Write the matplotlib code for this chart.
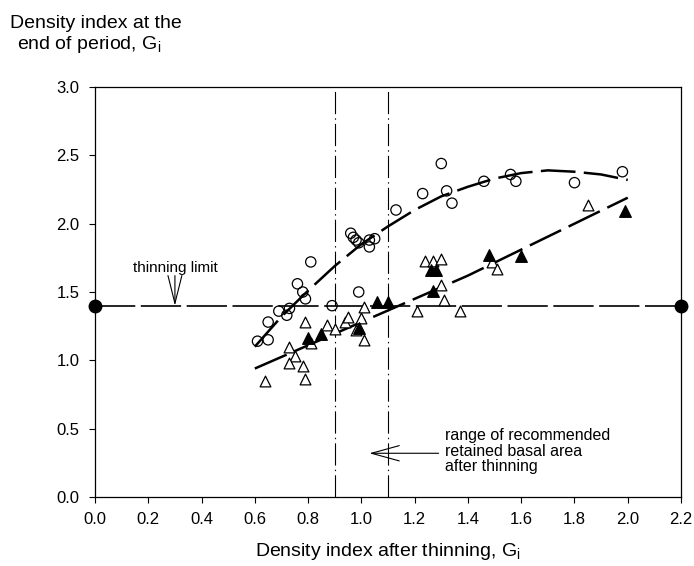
import matplotlib
matplotlib.use("Agg")
import matplotlib.pyplot as plt

plt.rcParams["font.family"] = ["Liberation Sans", "DejaVu Sans"]
plt.rcParams["mathtext.fontset"] = "custom"
plt.rcParams["mathtext.rm"] = "Liberation Sans"
plt.rcParams["mathtext.it"] = "Liberation Sans"
plt.rcParams["lines.scale_dashes"] = False

# open circles
circle_x = [0.61, 0.65, 0.65, 0.69, 0.72, 0.73, 0.76, 0.78, 0.79, 0.81, 0.89,
            0.96, 0.97, 0.98, 0.99, 0.99, 1.03, 1.05, 1.03, 1.13, 1.23, 1.30,
            1.32, 1.34, 1.46, 1.56, 1.58, 1.80, 1.98]
circle_y = [1.14, 1.15, 1.28, 1.36, 1.33, 1.38, 1.56, 1.50, 1.45, 1.72, 1.40,
            1.93, 1.90, 1.88, 1.86, 1.50, 1.88, 1.89, 1.83, 2.10, 2.22, 2.44,
            2.24, 2.15, 2.31, 2.36, 2.31, 2.30, 2.38]

# open triangles
tri_x = [0.64, 0.73, 0.75, 0.73, 0.78, 0.79, 0.79, 0.81, 0.87, 0.90, 0.94,
         0.95, 0.98, 1.00, 1.01, 1.01, 1.21, 1.24, 1.27, 1.30, 1.30, 1.31,
         1.37, 1.49, 1.51, 1.85]
tri_y = [0.85, 1.10, 1.03, 0.98, 0.96, 0.86, 1.28, 1.13, 1.26, 1.23, 1.28,
         1.32, 1.22, 1.31, 1.15, 1.39, 1.36, 1.73, 1.73, 1.74, 1.55, 1.44,
         1.36, 1.72, 1.67, 2.14]

# filled triangles
ftri_x = [0.80, 0.85, 0.99, 1.06, 1.10, 1.26, 1.28, 1.27, 1.48, 1.60, 1.99]
ftri_y = [1.16, 1.19, 1.24, 1.43, 1.43, 1.66, 1.66, 1.51, 1.77, 1.76, 2.09]

# fitted curves
fit_c_x = [0.6, 0.7, 0.8, 0.9, 1.0, 1.1, 1.2, 1.3, 1.4, 1.5, 1.6, 1.7, 1.8, 1.9, 2.0]
fit_c_y = [1.10, 1.32, 1.51, 1.69, 1.85, 1.98, 2.10, 2.20, 2.27, 2.33, 2.37,
           2.39, 2.38, 2.36, 2.32]
fit_t_x = [0.6, 0.8, 1.0, 1.2, 1.4, 1.6, 1.8, 2.0]
fit_t_y = [0.94, 1.11, 1.28, 1.45, 1.62, 1.81, 2.00, 2.19]

thinning_limit = 1.4
range_low, range_high = 0.9, 1.1

xticks = [0.0, 0.2, 0.4, 0.6, 0.8, 1.0, 1.2, 1.4, 1.6, 1.8, 2.0, 2.2]
yticks = [0.0, 0.5, 1.0, 1.5, 2.0, 2.5, 3.0]

fig = plt.figure(figsize=(6.94, 5.66), dpi=100)
ax = fig.add_axes([0.1369, 0.1219, 0.8444, 0.7244])

# recommended range
for xv in (range_low, range_high):
    ax.axvline(xv, color="black", lw=0.8, linestyle=(0, (16, 3, 1, 3)))

# thinning limit line with end dots
ax.plot([0.0, 2.2], [thinning_limit, thinning_limit], color="black", lw=1.2,
        linestyle=(0, (29, 4)), clip_on=False)
ax.plot([0.0, 2.2], [thinning_limit, thinning_limit], "o", color="black",
        markersize=9, linestyle="none", clip_on=False, zorder=5)

# fitted lines
ax.plot(fit_c_x, fit_c_y, color="black", lw=1.8, linestyle=(0, (25, 6)))
ax.plot(fit_t_x, fit_t_y, color="black", lw=1.8, linestyle=(0, (25, 6)))

# points
ax.scatter(circle_x, circle_y, s=55, facecolors="none", edgecolors="black",
           linewidths=0.9, zorder=4)
ax.scatter(tri_x, tri_y, s=60, marker="^", facecolors="white",
           edgecolors="black", linewidths=0.9, zorder=4)
ax.scatter(ftri_x, ftri_y, s=70, marker="^", facecolors="black",
           edgecolors="black", linewidths=0.9, zorder=4)

# annotations
ax.annotate("", xy=(0.3, thinning_limit), xytext=(0.3, 1.62),
            arrowprops=dict(arrowstyle="->,head_length=2.0,head_width=0.5",
                            lw=0.8, color="black", shrinkA=0, shrinkB=0))
ax.text(0.3, 1.675, "thinning limit", ha="center", va="center", fontsize=11)

ax.annotate("", xy=(1.03, 0.32), xytext=(1.29, 0.32),
            arrowprops=dict(arrowstyle="->,head_length=2.0,head_width=0.55",
                            lw=0.8, color="black", shrinkA=0, shrinkB=0))
ax.text(1.313, 0.336, "range of recommended\nretained basal area\nafter thinning",
        ha="left", va="center", fontsize=11.5, linespacing=1.05)

ax.set_xlim(0, 2.2)
ax.set_ylim(0, 3.0)
ax.set_xticks(xticks)
ax.set_yticks(yticks)
ax.set_xticklabels([f"{v:.1f}" for v in xticks])
ax.set_yticklabels([f"{v:.1f}" for v in yticks])
ax.tick_params(direction="out", length=4, width=0.8, pad=7, labelsize=12,
               top=False, right=False)
for spine in ax.spines.values():
    spine.set_linewidth(0.9)

fig.text(10 / 694, 1 - 28 / 566, "Density index at the", fontsize=14,
         ha="left", va="baseline")
fig.text(17 / 694, 1 - 49 / 566, r"end of period, G$_\mathregular{i}$",
         fontsize=14, ha="left", va="baseline")
fig.text(388 / 694, 1 - 556 / 566,
         r"Density index after thinning, G$_\mathregular{i}$",
         fontsize=14, ha="center", va="baseline")

fig.savefig("out.png", dpi=100)
